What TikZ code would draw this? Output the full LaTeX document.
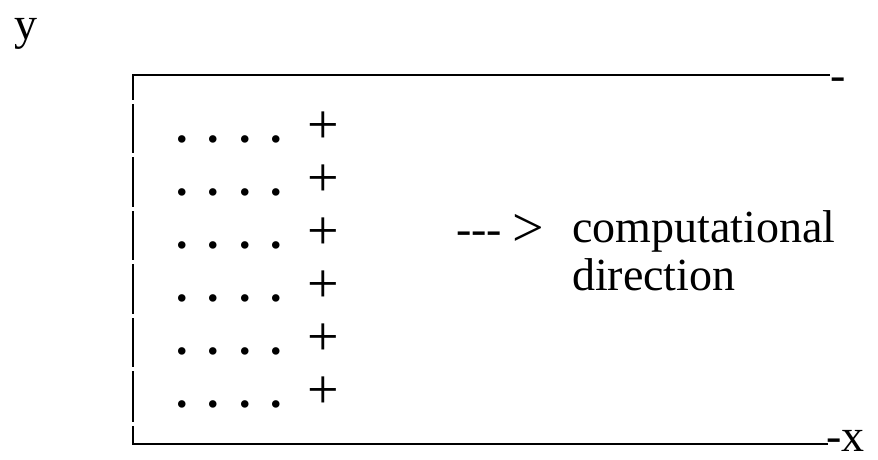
\documentclass[tikz,border=0pt]{standalone}
\usepackage{fontspec}
\setmainfont{Liberation Serif}
\begin{document}
\begin{tikzpicture}[x=1pt,y=-1pt,
  axisline/.style={line width=2.8pt,line cap=butt},
  txt/.style={inner sep=0pt,outer sep=0pt,anchor=base west,font=\fontsize{46}{48}\selectfont},
  dotrow/.style={inner sep=0pt,outer sep=0pt,anchor=center,font=\fontsize{46}{48}\selectfont\bfseries},
  plusmark/.style={inner sep=0pt,outer sep=0pt,anchor=center,font=\fontsize{56}{58}\selectfont}]
\useasboundingbox (0,0) rectangle (878,460);
% frame
\draw[axisline] (830,75) -- (133,75) -- (133,100);
\foreach \a/\b in {104/153,157/207,211/260,264/314,318/367,371/422}
  \draw[axisline] (133,\a) -- (133,\b);
\draw[axisline] (133,426) -- (133,444) -- (828,444);
% axis labels
\node[txt] (ylab) at (14,40) {y};
\node[txt] (topdash) at (830,90) {-};
\node[txt] (xlab) at (826,451) {-x};
% rows of dots and pluses
\foreach \r in {0,...,5}{
  \pgfmathsetmacro{\py}{128+53.0*\r}
  \pgfmathsetmacro{\dy}{139+53.0*\r}
  \node[dotrow] (d\r) at (229.5,\dy) {.\hspace{20pt}.\hspace{20pt}.\hspace{20pt}.};
  \node[plusmark] (p\r) at (323,\py) {+};
}
% direction text
\node[txt] (dashes) at (456,244) {-{}-{}-};
\node[txt,font=\fontsize{56}{58}\selectfont] (gt) at (512,246) {>};
\node[txt] (comp) at (572,242) {computational};
\node[txt] (dir) at (572,290) {direction};
\end{tikzpicture}
\end{document}
